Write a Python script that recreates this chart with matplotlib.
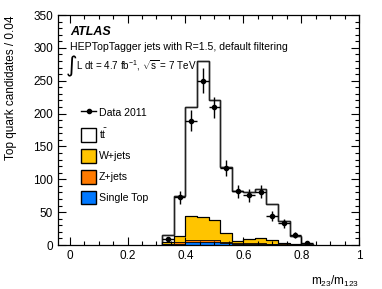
import numpy as np
import matplotlib
matplotlib.use("Agg")
import matplotlib.pyplot as plt
from matplotlib.lines import Line2D
from matplotlib.patches import Patch
from matplotlib.ticker import MultipleLocator

# Bin edges of the m23/m123 histogram (width 0.04)
edges = [0.32, 0.36, 0.40, 0.44, 0.48, 0.52, 0.56, 0.60, 0.64, 0.68, 0.72, 0.76, 0.80, 0.84]

# Stacked MC contributions per bin
single_top = [1, 2, 5, 5, 5, 3, 2, 2, 2, 1.5, 0.5, 0.3, 0]
z_jets = [1, 2, 3, 3, 3, 2, 1, 1, 1, 0.5, 0.5, 0.2, 0]
w_jets = [2, 10, 36, 34, 30, 14, 3, 6, 8, 6, 2.5, 0.5, 0.5]
ttbar = [11, 61, 166, 238, 182, 100, 76, 72, 74, 54, 33.5, 13, 1.5]

# Data 2011 at bin centres
data_x = [0.34, 0.38, 0.42, 0.46, 0.50, 0.54, 0.58, 0.62, 0.66, 0.70, 0.74, 0.78, 0.82]
data_y = [9, 73, 189, 250, 210, 117, 82, 76, 81, 44, 33, 15, 3]
data_err = [4, 10, 16, 19, 16, 12, 10, 10, 10, 8, 7, 5, 2]

plt.rcParams['font.family'] = ['Liberation Sans', 'DejaVu Sans']
plt.rcParams['mathtext.fontset'] = 'custom'
plt.rcParams['mathtext.rm'] = 'Liberation Sans'
plt.rcParams['mathtext.it'] = 'Liberation Sans:italic'

fig = plt.figure(figsize=(3.82, 2.89), dpi=100)
ax = fig.add_axes([0.152, 0.152, 0.788, 0.796])

# cumulative stack, drawn from the top down
c_st = np.array(single_top)
c_z = c_st + np.array(z_jets)
c_w = c_z + np.array(w_jets)
c_tt = c_w + np.array(ttbar)

ax.stairs(c_tt, edges, fill=True, facecolor='white', edgecolor='#222222', lw=1.0)
ax.stairs(c_tt, edges, fill=False, color='#222222', lw=1.0)
ax.stairs(c_w, edges, fill=True, facecolor='#FFC400', edgecolor='k', lw=0.8)
ax.stairs(c_w, edges, fill=False, color='k', lw=0.8)
ax.stairs(c_z, edges, fill=True, facecolor='#FF7A00', edgecolor='k', lw=0.6)
ax.stairs(c_st, edges, fill=True, facecolor='#0078FF', edgecolor='k', lw=0.6)

# data points
ax.errorbar(data_x, data_y, xerr=0.02, yerr=data_err, fmt='o', ms=3,
            color='k', lw=1, capsize=0)

ax.set_xlim(-0.04, 1.0)
ax.set_ylim(0, 350)
ax.xaxis.set_major_locator(MultipleLocator(0.2))
ax.xaxis.set_minor_locator(MultipleLocator(0.05))
ax.yaxis.set_major_locator(MultipleLocator(50))
ax.yaxis.set_minor_locator(MultipleLocator(10))
ax.set_xticks([0, 0.2, 0.4, 0.6, 0.8, 1.0])
ax.set_xticklabels(['0', '0.2', '0.4', '0.6', '0.8', '1'])
ax.tick_params(which='both', direction='in', top=True, right=True, labelsize=8.5)
ax.tick_params(which='major', length=6, width=0.8)
ax.tick_params(which='minor', length=3, width=0.8)
for s in ax.spines.values():
    s.set_linewidth(0.9)

# y title aligned to the top of the axis, ROOT style
ax.text(-0.155, 1.0, 'Top quark candidates / 0.04', transform=ax.transAxes,
        rotation=90, ha='center', va='top', fontsize=8.5)
ax.set_xlabel(r'$\mathrm{m_{23}/m_{123}}$', fontsize=8.5, ha='right')
ax.xaxis.set_label_coords(1.0, -0.125)

# labels
ax.text(0.04, 0.926, 'ATLAS', transform=ax.transAxes, fontsize=9,
        fontweight='bold', fontstyle='italic', va='center')
ax.text(0.04, 0.859, 'HEPTopTagger jets with R=1.5, default filtering',
        transform=ax.transAxes, fontsize=7.6, va='center')
ax.text(0.024, 0.777, '\u222b', transform=ax.transAxes, fontsize=16,
        va='center', family=['DejaVu Sans'])
ax.text(0.058, 0.782, r'L dt = 4.7 fb$^{-1}$, $\sqrt{\mathrm{s}}$ = 7 TeV',
        transform=ax.transAxes, fontsize=7.1, va='center')

handles = [
    Line2D([], [], color='k', marker='o', ms=3, lw=1),
    Patch(facecolor='white', edgecolor='k', lw=1),
    Patch(facecolor='#FFC400', edgecolor='k', lw=1),
    Patch(facecolor='#FF7A00', edgecolor='k', lw=1),
    Patch(facecolor='#0078FF', edgecolor='k', lw=1),
]
labels = ['Data 2011', r'$\mathrm{t\bar{t}}$', 'W+jets', 'Z+jets', 'Single Top']
ax.legend(handles, labels, loc='upper left', bbox_to_anchor=(0.075, 0.605),
          frameon=False, fontsize=7.6, borderpad=0, borderaxespad=0,
          handlelength=1.5, handleheight=1.6, handletextpad=0.25,
          labelspacing=0.68)

fig.savefig('out.png', dpi=100)
